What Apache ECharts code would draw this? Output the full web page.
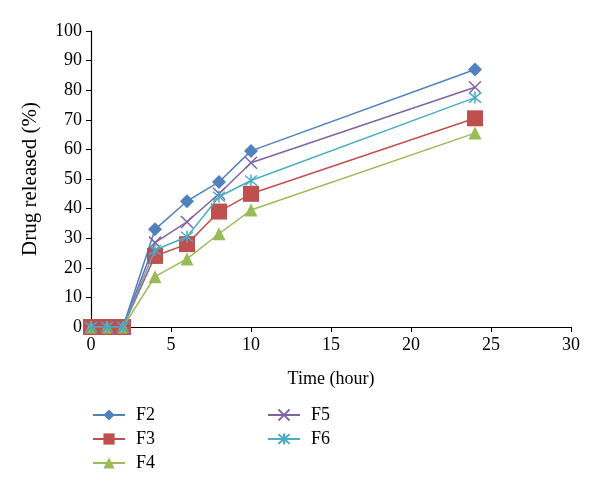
<!DOCTYPE html>
<html><head><meta charset="utf-8">
<script src="https://cdn.jsdelivr.net/npm/echarts@6/dist/echarts.min.js"></script>
<style>html,body{margin:0;padding:0;background:#fff}#c{width:600px;height:496px}</style>
</head><body><div id="c"></div>
<script>
var timeHours = [0, 1, 2, 4, 6, 8, 10, 24];
var F2 = [0, 0, 0, 33, 42.5, 49, 59.5, 87];
var F3 = [0, 0, 0, 24, 28, 39, 45, 70.5];
var F4 = [0, 0, 0, 17, 23, 31.5, 39.5, 65.5];
var F5 = [0, 0, 0, 28.5, 35.5, 45, 55.5, 81];
var F6 = [0, 0, 0, 26, 30.5, 44, 49.5, 77.5];
var seriesNames = ['F2', 'F3', 'F4', 'F5', 'F6'];
var seriesValues = [F2, F3, F4, F5, F6];
var colors = ['#4F81BD', '#C0504D', '#9BBB59', '#8064A2', '#4BACC6'];
var xPath = 'path://M0 0L10 10M10 0L0 10';
var starPath = 'path://M0 0L10 10M10 0L0 10M5 -1L5 11';
var symbols = ['diamond', 'rect', 'triangle', xPath, starPath];
var sizes = [14, 16, 13, 12, 12];
var font = 'Liberation Serif';

var series = seriesNames.map(function (n, i) {
  var vals = seriesValues[i];
  var stroke = i >= 3;
  return {
    name: n, type: 'line',
    data: timeHours.map(function (t, j) { return [t, vals[j]]; }),
    symbol: symbols[i], symbolSize: sizes[i],
    lineStyle: { color: colors[i], width: 1.5 },
    itemStyle: stroke ? { color: 'none', borderColor: colors[i], borderWidth: 1.5 } : { color: colors[i], borderWidth: 0 },
    z: 2 + i, animation: false
  };
});

var chart = echarts.init(document.getElementById('c'));
function legendFor(names, left) {
  return {
    data: names.map(function (n) { return { name: n }; }), orient: 'vertical', left: left, top: 406,
    padding: 0, itemWidth: 32, itemHeight: 14, itemGap: 6,
    textStyle: { fontFamily: font, fontSize: 18, color: '#000', padding: [0, 0, 0, 6] }
  };
}
chart.setOption({
  animation: false,
  color: colors,
  grid: { left: 91, right: 29, top: 31, bottom: 169, containLabel: false },
  legend: [legendFor(['F2', 'F3', 'F4'], 92), legendFor(['F5', 'F6'], 267)],
  xAxis: {
    type: 'value', min: 0, max: 30, interval: 5,
    name: 'Time (hour)', nameLocation: 'middle', nameGap: 43,
    nameTextStyle: { fontFamily: font, fontSize: 18, color: '#000' },
    axisLine: { lineStyle: { color: '#000', width: 1.2 } },
    axisTick: { show: true, length: 5, lineStyle: { color: '#000' } },
    axisLabel: { fontFamily: font, fontSize: 18, color: '#000', margin: 9 },
    splitLine: { show: false }
  },
  yAxis: {
    type: 'value', min: 0, max: 100, interval: 10,
    name: 'Drug released (%)', nameLocation: 'middle', nameGap: 50, nameRotate: 90,
    nameTextStyle: { fontFamily: font, fontSize: 21, color: '#000' },
    axisLine: { show: true, lineStyle: { color: '#000', width: 1.2 } },
    axisTick: { show: true, length: 5, lineStyle: { color: '#000' } },
    axisLabel: { fontFamily: font, fontSize: 18, color: '#000', margin: 9 },
    splitLine: { show: false }
  },
  series: series
});
</script></body></html>
